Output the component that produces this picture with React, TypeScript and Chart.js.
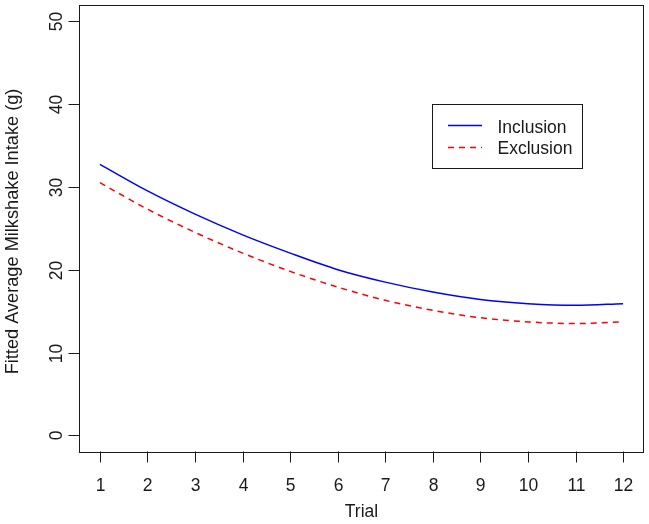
import React, { useEffect, useRef } from "react";
import { Chart, registerables } from "chart.js";

Chart.register(...registerables);

const trials = [1, 2, 3, 4, 5, 6, 7, 8, 9, 10, 11, 12];
const inclusion = [32.7, 29.5, 26.7, 24.2, 22.0, 20.0, 18.5, 17.3, 16.4, 15.9, 15.7, 15.9];
const exclusion = [30.5, 27.3, 24.5, 22.0, 19.8, 17.9, 16.3, 15.1, 14.2, 13.7, 13.5, 13.7];
const xTicks = [1, 2, 3, 4, 5, 6, 7, 8, 9, 10, 11, 12];
const yTicks = [0, 10, 20, 30, 40, 50];
const seriesNames = ["Inclusion", "Exclusion"];
const xTitle = "Trial";
const yTitle = "Fitted Average Milkshake Intake (g)";

const FONT = '17.5px "Liberation Sans", Arial, sans-serif';
const TITLE_FONT = '18.2px "Liberation Sans", Arial, sans-serif';
const INK = "#1a1a1a";

const rPlot = {
  id: "rPlot",
  afterDraw(chart: any) {
    const ctx = chart.ctx;
    const xs = chart.scales.x;
    const ys = chart.scales.y;
    const a = chart.chartArea;
    ctx.save();
    ctx.strokeStyle = INK;
    ctx.fillStyle = INK;
    ctx.lineWidth = 1;
    ctx.setLineDash([]);
    // box
    ctx.strokeRect(Math.round(a.left) + 0.5, Math.round(a.top) + 0.5, Math.round(a.right - a.left) - 1, Math.round(a.bottom - a.top) - 1);
    ctx.font = FONT;
    // x ticks
    const bottom = Math.round(a.bottom) - 0.5;
    xTicks.forEach((t) => {
      const px = Math.round(xs.getPixelForValue(t)) + 0.5;
      ctx.beginPath();
      ctx.moveTo(px, bottom);
      ctx.lineTo(px, bottom + 11);
      ctx.stroke();
      ctx.textAlign = "center";
      ctx.textBaseline = "alphabetic";
      ctx.fillText(String(t), px, 491);
    });
    // y ticks
    const left = Math.round(a.left) + 0.5;
    yTicks.forEach((v) => {
      const py = Math.round(ys.getPixelForValue(v)) + 0.5;
      ctx.beginPath();
      ctx.moveTo(left - 11, py);
      ctx.lineTo(left, py);
      ctx.stroke();
      ctx.save();
      ctx.translate(61.5, py);
      ctx.rotate(-Math.PI / 2);
      ctx.textAlign = "center";
      ctx.textBaseline = "alphabetic";
      ctx.fillText(String(v), 0, 0);
      ctx.restore();
    });
    // titles
    ctx.textAlign = "center";
    ctx.textBaseline = "alphabetic";
    ctx.fillText(xTitle, (a.left + a.right) / 2, 516.5);
    ctx.save();
    ctx.font = TITLE_FONT;
    ctx.translate(17.5, 231.5);
    ctx.rotate(-Math.PI / 2);
    ctx.fillText(yTitle, 0, 0);
    ctx.restore();
    // legend
    ctx.strokeRect(432.5, 104.5, 150, 64);
    const rows = [
      { y: 125.5, base: 132.7, color: "#0000ff", dash: [] as number[] },
      { y: 147.5, base: 154.3, color: "#ff0000", dash: [6, 5] },
    ];
    rows.forEach((r, i) => {
      ctx.strokeStyle = r.color;
      ctx.lineWidth = 1.5;
      ctx.setLineDash(r.dash);
      ctx.beginPath();
      ctx.moveTo(448, r.y);
      ctx.lineTo(482, r.y);
      ctx.stroke();
      ctx.setLineDash([]);
      ctx.textAlign = "left";
      ctx.fillStyle = INK;
      ctx.fillText(seriesNames[i], 497.5, r.base);
    });
    ctx.restore();
  },
};

export default function App() {
  const ref = useRef<HTMLCanvasElement | null>(null);
  useEffect(() => {
    if (!ref.current) return;
    const chart = new Chart(ref.current, {
      type: "line",
      data: {
        datasets: [
          {
            label: seriesNames[0],
            data: trials.map((t, i) => ({ x: t, y: inclusion[i] })),
            borderColor: "#0000ff",
            borderWidth: 1.5,
            pointRadius: 0,
            cubicInterpolationMode: "monotone",
            fill: false,
          },
          {
            label: seriesNames[1],
            data: trials.map((t, i) => ({ x: t, y: exclusion[i] })),
            borderColor: "#ff0000",
            borderWidth: 1.5,
            borderDash: [6, 5],
            pointRadius: 0,
            cubicInterpolationMode: "monotone",
            fill: false,
          },
        ],
      },
      options: {
        responsive: false,
        animation: false,
        layout: { padding: { left: 79, right: 5, top: 4.5, bottom: 72 } },
        scales: {
          x: { type: "linear", min: 0.56, max: 12.44, display: false },
          y: { type: "linear", min: -2, max: 52, display: false },
        },
        plugins: { legend: { display: false }, tooltip: { enabled: false } },
      },
      plugins: [rPlot],
    });
    return () => chart.destroy();
  }, []);
  return (
    <div style={{ position: "fixed", left: 0, top: 0, width: 649, height: 524, background: "#fff" }}>
      <canvas ref={ref} width={649} height={524} style={{ display: "block" }} />
    </div>
  );
}
